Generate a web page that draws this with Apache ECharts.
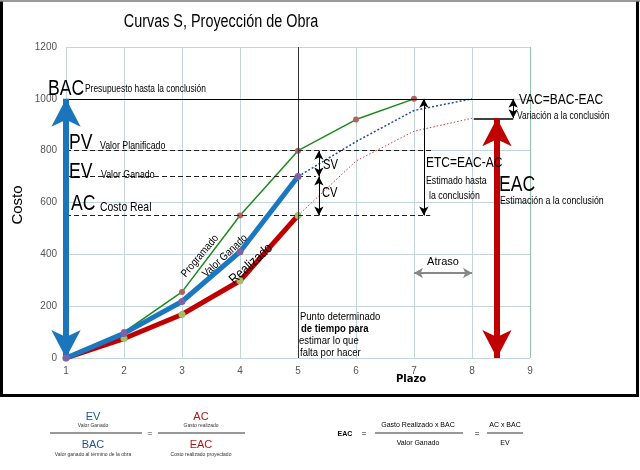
<!DOCTYPE html>
<html>
<head>
<meta charset="utf-8">
<script src="https://cdn.jsdelivr.net/npm/echarts@6/dist/echarts.min.js"></script>
<style>html,body{margin:0;padding:0;background:#fff}#c{width:640px;height:470px}</style>
</head>
<body>
<div id="c"></div>
<script>
// ---- data ----
const xTicks = [1, 2, 3, 4, 5, 6, 7, 8, 9];
const yTicks = [0, 200, 400, 600, 800, 1000, 1200];
const xMain = [1, 2, 3, 4, 5, 6, 7];
const programado = [0, 100, 255, 550, 800, 920, 1000];
const valorGanado = [0, 95, 218, 410, 700];
const realizado = [0, 75, 168, 298, 550];
const xProj = [5, 6, 7, 8];
const proyGanado = [700, 835, 955, 1000];
const proyRealizado = [550, 760, 875, 925];
// reference levels (cost) and positions (plazo)
const BAC = 1000, PV = 800, EV = 700, AC = 550, EACv = 925;
const corte = 5;          // punto de corte
const xSVCV = 5.36;       // SV / CV arrows
const xETC = 7.17;        // ETC arrow
const xVAC = 8.71;        // VAC arrow / end of BAC line
const xEAC = 8.43;        // EAC arrow
const atrasoDesde = 7, atrasoHasta = 8, atrasoY = 328;
const pvEnd = 7.33, evEnd = 5.31, acEnd = 7.28, eacLineStart = 8.03;

const SANS = "'Liberation Sans',Arial,sans-serif";

function pairs(xs, ys) { return xs.map((x, i) => [x, ys[i]]); }
function seg(x1, y1, x2, y2) { return [{ coord: [x1, y1] }, { coord: [x2, y2] }]; }

const chart = echarts.init(document.getElementById('c'), null, { renderer: 'canvas', width: 640, height: 470 });

function ml(data, color, width, type, symbol, symbolSize) {
  return {
    type: 'line', data: [], silent: true,
    markLine: {
      silent: true, animation: false,
      symbol: symbol || 'none', symbolSize: symbolSize || 8,
      label: { show: false },
      lineStyle: { color: color, width: width, type: type || 'solid' },
      emphasis: { disabled: true },
      data: data
    }
  };
}

const option = {
  animation: false,
  grid: { left: 66, right: 110, top: 47, bottom: 112 },
  xAxis: {
    type: 'value', min: 1, max: 9, interval: 1,
    axisLine: { show: false }, axisTick: { show: false },
    axisLabel: { color: '#555', fontSize: 10, fontFamily: SANS, margin: 8, formatter: v => String(v) },
    splitLine: { show: true, lineStyle: { color: '#c3d4da', width: 1 } }
  },
  yAxis: {
    type: 'value', min: 0, max: 1200, interval: 200,
    axisLine: { show: false }, axisTick: { show: false },
    axisLabel: { color: '#555', fontSize: 10, fontFamily: SANS, margin: 9, formatter: v => String(v) },
    splitLine: { show: true, lineStyle: { color: '#c3d4da', width: 1 } }
  },
  series: [
    // grid accents
    ml([seg(9, 0, 9, 1200)], '#8fc4a8', 1),
    ml([seg(corte, 0, corte, 1200)], '#333', 1),
    // reference lines
    ml([seg(1, BAC, xVAC, BAC)], '#000', 1),
    ml([seg(1, PV, pvEnd, PV), seg(1, EV, evEnd, EV), seg(1, AC, acEnd, AC)], '#222', 1, [5, 3]),
    ml([seg(eacLineStart, EACv, xVAC, EACv)], '#000', 1.5),
    // projections
    { type: 'line', data: pairs(xProj, proyGanado), symbol: 'none', lineStyle: { color: '#1e4f9c', width: 1.5, type: [2, 2] }, z: 2 },
    { type: 'line', data: pairs(xProj, proyRealizado), symbol: 'none', lineStyle: { color: '#d0383c', width: 1, type: [1.5, 2] }, z: 2 },
    // curves
    { name: 'Programado', type: 'line', data: pairs(xMain, programado), symbol: 'circle', symbolSize: 6,
      lineStyle: { color: '#1b8a1b', width: 1.5 }, itemStyle: { color: '#b4625e' }, z: 3 },
    { name: 'Realizado', type: 'line', data: pairs(xMain.slice(0, 5), realizado), symbol: 'circle', symbolSize: 7,
      lineStyle: { color: '#c00000', width: 5 }, itemStyle: { color: '#a3c063' }, z: 4 },
    { name: 'Valor Ganado', type: 'line', data: pairs(xMain.slice(0, 5), valorGanado), symbol: 'circle', symbolSize: 7,
      lineStyle: { color: '#1a78c2', width: 5 }, itemStyle: { color: '#7d62a8' }, z: 5 },
    // arrows
    ml([seg(xSVCV, PV, xSVCV, EV), seg(xSVCV, EV, xSVCV, AC), seg(xETC, BAC, xETC, AC), seg(xVAC, BAC, xVAC, EACv)],
       '#000', 1, 'solid', ['arrow', 'arrow'], [7, 9]),
    ml([seg(atrasoDesde, atrasoY, atrasoHasta, atrasoY)], '#888', 2, 'solid', ['arrow', 'arrow'], [8, 9]),
    ml([seg(1, 0, 1, BAC)], '#1a75bc', 6, 'solid', ['arrow', 'arrow'], [22, 28]),
    ml([seg(xEAC, 0, xEAC, EACv)], '#c00000', 6, 'solid', ['arrow', 'arrow'], [22, 28])
  ]
};
chart.setOption(option);

function txt(t, x, y, size, opts) {
  opts = opts || {};
  return {
    type: 'text', x: x, y: y, rotation: opts.rot || 0, z: 50,
    scaleX: opts.sx === undefined ? 0.8 : opts.sx,
    style: {
      text: t, fill: opts.color || '#000',
      font: (opts.weight || 'normal') + ' ' + size + 'px ' + (opts.family || SANS),
      textAlign: opts.align || 'left', textVerticalAlign: 'middle'
    }
  };
}
function hline(x1, x2, y, color, w) {
  return { type: 'line', z: 50, shape: { x1: x1, y1: y, x2: x2, y2: y }, style: { stroke: color || '#000', lineWidth: w || 1 } };
}
const g = [];
// frame
g.push({ type: 'polyline', z: 40, shape: { points: [[1.5, 1], [1.5, 395.5], [637.5, 395.5], [637.5, 1]] }, style: { fill: 'none', stroke: '#000', lineWidth: 3 } });
g.push(hline(0, 640, 1, '#777', 1.5));
// title and axis names
g.push(txt('Curvas S, Proyección de Obra', 221, 22, 18, { align: 'center' }));
g.push(txt('Costo', 18, 205, 15, { rot: Math.PI / 2, align: 'center', sx: 1 }));
g.push(txt('Plazo', 411, 379, 10, { weight: 'bold', align: 'center', family: "'DejaVu Sans',sans-serif", sx: 1 }));
// left labels
g.push(txt('BAC', 48, 89, 22));
g.push(txt('Presupuesto hasta la conclusión', 85, 89, 10.5));
g.push(txt('PV', 69, 143, 22));
g.push(txt('Valor Planificado', 100, 146, 11));
g.push(txt('EV', 69, 172, 22));
g.push(txt('Valor Ganado', 101, 175, 11));
g.push(txt('AC', 71, 204, 22));
g.push(txt('Costo Real', 100, 207, 13));
// arrow labels
g.push(txt('SV', 323, 165, 14));
g.push(txt('CV', 322, 193, 14));
g.push(txt('ETC=EAC-AC', 426, 163, 15));
g.push(txt('Estimado hasta', 426, 181, 11));
g.push(txt('la conclusión', 429, 196, 11));
g.push(txt('EAC', 499, 185, 22));
g.push(txt('Estimación a la conclusión', 500, 201, 11));
g.push(txt('VAC=BAC-EAC', 519, 100, 15));
g.push(txt('Variación a la conclusión', 517, 116, 10.5));
g.push(txt('Atraso', 443, 262, 11, { align: 'center', sx: 1 }));
// curve labels
g.push(txt('Programado', 200, 256, 11, { rot: 50 * Math.PI / 180, align: 'center', sx: 0.85 }));
g.push(txt('Valor Ganado', 225, 256, 11, { rot: 43 * Math.PI / 180, align: 'center', sx: 0.85 }));
g.push(txt('Realizado', 251, 264, 14, { rot: 42 * Math.PI / 180, align: 'center', sx: 0.85 }));
// note
g.push(txt('Punto determinado', 300, 317, 10, { sx: 0.95 }));
g.push(txt('de tiempo para', 301, 329, 10, { weight: 'bold', sx: 0.95 }));
g.push(txt('estimar lo que', 299, 341, 10, { sx: 0.95 }));
g.push(txt('falta por hacer', 300, 353, 10, { sx: 0.95 }));
// formulas bottom
const blue = '#1f4f96', red = '#b81414';
g.push(txt('EV', 93, 417, 11, { align: 'center', color: blue, sx: 1 }));
g.push(txt('Valor Ganado', 93, 426, 5, { align: 'center', color: '#333', sx: 1 }));
g.push(hline(50, 142, 433, '#333', 1));
g.push(txt('BAC', 93, 445, 11, { align: 'center', color: blue, sx: 1 }));
g.push(txt('Valor ganado al término de la obra', 93, 455, 5, { align: 'center', color: '#333', sx: 1 }));
g.push(txt('=', 150, 434, 9, { align: 'center', color: '#444', sx: 1 }));
g.push(txt('AC', 201, 417, 11, { align: 'center', color: red, sx: 1 }));
g.push(txt('Gasto realizado', 201, 426, 5, { align: 'center', color: '#333', sx: 1 }));
g.push(hline(158, 245, 433, '#333', 1));
g.push(txt('EAC', 201, 445, 11, { align: 'center', color: red, sx: 1 }));
g.push(txt('Costo realizado proyectado', 201, 455, 5, { align: 'center', color: '#333', sx: 1 }));
g.push(txt('EAC', 345, 434, 7, { align: 'center', weight: 'bold', sx: 1 }));
g.push(txt('=', 364, 434, 8, { align: 'center', sx: 1 }));
g.push(txt('Gasto Realizado x BAC', 418, 425, 7, { align: 'center', sx: 1 }));
g.push(hline(375, 463, 433, '#333', 1));
g.push(txt('Valor Ganado', 418, 443, 7, { align: 'center', sx: 1 }));
g.push(txt('=', 477, 434, 8, { align: 'center', sx: 1 }));
g.push(txt('AC x BAC', 505, 425, 7, { align: 'center', sx: 1 }));
g.push(hline(487, 523, 433, '#333', 1));
g.push(txt('EV', 505, 443, 7, { align: 'center', sx: 1 }));
chart.setOption({ graphic: g });
</script>
</body>
</html>
